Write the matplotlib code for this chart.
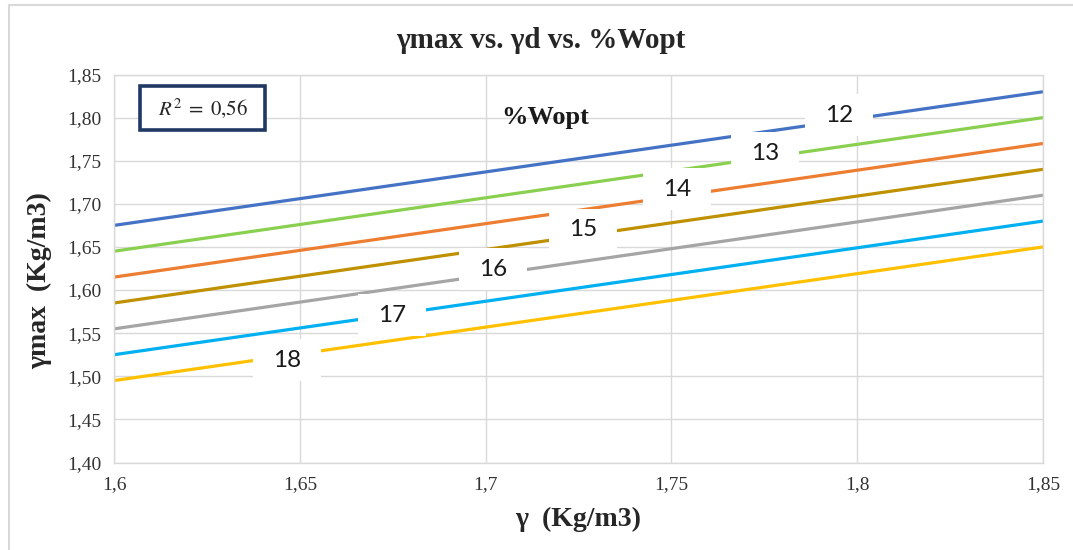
import matplotlib
matplotlib.use("Agg")
import matplotlib.pyplot as plt
from matplotlib.path import Path
from matplotlib.patches import Rectangle, FancyBboxPatch

# Optimum moisture content levels (%Wopt) and their lines gamma_max vs gamma
w_opt = [12, 13, 14, 15, 16, 17, 18]
gamma_range = [1.60, 1.85]
gmax_start = [1.675, 1.645, 1.615, 1.585, 1.555, 1.525, 1.495]
gmax_end = [1.830, 1.800, 1.770, 1.740, 1.710, 1.680, 1.650]

# Where each %Wopt level is written on its line
label_x = [1.7951, 1.7752, 1.7515, 1.7262, 1.7020, 1.6748, 1.6466]
label_y = [1.8030, 1.7589, 1.7172, 1.6702, 1.6244, 1.5710, 1.5188]

x_ticks = [1.60, 1.65, 1.70, 1.75, 1.80, 1.85]
x_tick_labels = ["1,6", "1,65", "1,7", "1,75", "1,8", "1,85"]
y_ticks = [1.40, 1.45, 1.50, 1.55, 1.60, 1.65, 1.70, 1.75, 1.80, 1.85]
y_tick_labels = ["1,40", "1,45", "1,50", "1,55", "1,60", "1,65", "1,70",
                 "1,75", "1,80", "1,85"]

colors = ["#4472C4", "#8AD050", "#ED7D31", "#BF9000", "#A5A5A5",
          "#00B0F0", "#FFC000"]

plt.rcParams["mathtext.fontset"] = "stix"

W, H = 1073, 550
fig = plt.figure(figsize=(W / 100, H / 100), dpi=100)
fig.patch.set_facecolor("white")

# chart frame
fig.patches.append(Rectangle((9 / W, -0.1), 1.2, (545 / H) + 0.1,
                             transform=fig.transFigure, fill=False,
                             ec="#D9D9D9", lw=1.5, zorder=0))

left, right, top, bottom = 114, 1043, 74.5, 462.5
ax = fig.add_axes([left / W, (H - bottom) / H, (right - left) / W,
                   (bottom - top) / H])

serif = "Liberation Serif"

for k, c, y0, y1 in zip(w_opt, colors, gmax_start, gmax_end):
    ax.plot(gamma_range, [y0, y1], color=c, lw=2.3, solid_capstyle="butt",
            zorder=2)


def label_box(x0, y0, width, height, mutation_size):
    padx = 0.82 * mutation_size
    pady = 0.42 * mutation_size
    verts = [(x0 - padx, y0 - pady), (x0 + width + padx, y0 - pady),
             (x0 + width + padx, y0 + height + pady),
             (x0 - padx, y0 + height + pady), (x0 - padx, y0 - pady)]
    return Path(verts, closed=True)


for i, (k, lx, ly) in enumerate(zip(w_opt, label_x, label_y)):
    ax.text(lx, ly, str(k), ha="center", va="center", fontsize=17.5,
            family="Lato", color="#1A1A1A", zorder=3 + i,
            bbox=dict(boxstyle=label_box, fc="white", ec="none"))

ax.text(1.716, 1.8007, "%Wopt", ha="center", va="center", fontsize=19,
        family=serif, fontweight="bold", color="#1A1A1A", zorder=10)

ax.set_xlim(gamma_range)
ax.set_ylim(1.40, 1.85)
ax.set_xticks(x_ticks)
ax.set_xticklabels(x_tick_labels)
ax.set_yticks(y_ticks)
ax.set_yticklabels(y_tick_labels)
ax.tick_params(length=0, labelsize=14, colors="#333333")
ax.tick_params(axis="x", pad=10)
ax.tick_params(axis="y", pad=9)
for lab in ax.get_xticklabels() + ax.get_yticklabels():
    lab.set_family(serif)

ax.grid(True, color="#D9D9D9", lw=1.0, zorder=0)
ax.set_axisbelow(True)
for s in ax.spines.values():
    s.set_color("#D9D9D9")
    s.set_linewidth(1.0)

ax.set_xlabel("\u03b3  (Kg/m3)", fontsize=20, family=serif,
              fontweight="bold", color="#262626")
ax.xaxis.set_label_coords(0.5, -0.1456)
ax.xaxis.label.set_va("center")
ax.set_ylabel("\u03b3max  (Kg/m3)", fontsize=20, family=serif,
              fontweight="bold", color="#262626")
ax.yaxis.set_label_coords(-0.0797, 0.47)
ax.yaxis.label.set_va("center")

fig.text(0.504, 1 - 40 / H, "\u03b3max vs. \u03b3d vs. %Wopt", ha="center",
         va="center", fontsize=21, family=serif, fontweight="bold",
         color="#262626")

# R^2 annotation box
bx0, by0, bx1, by1 = 140, 86, 265, 130
fig.patches.append(FancyBboxPatch((bx0 / W, (H - by1) / H), (bx1 - bx0) / W,
                                  (by1 - by0) / H, boxstyle="square,pad=0",
                                  transform=fig.transFigure, fc="white",
                                  ec="#1F3864", lw=2.6, zorder=5))
fig.text((bx0 + bx1) / 2 / W, 1 - 108 / H, r"$R^2\;=\;0{,}56$", ha="center",
         va="center", fontsize=15, color="#262626", zorder=6)

fig.savefig("out.png", dpi=100)
